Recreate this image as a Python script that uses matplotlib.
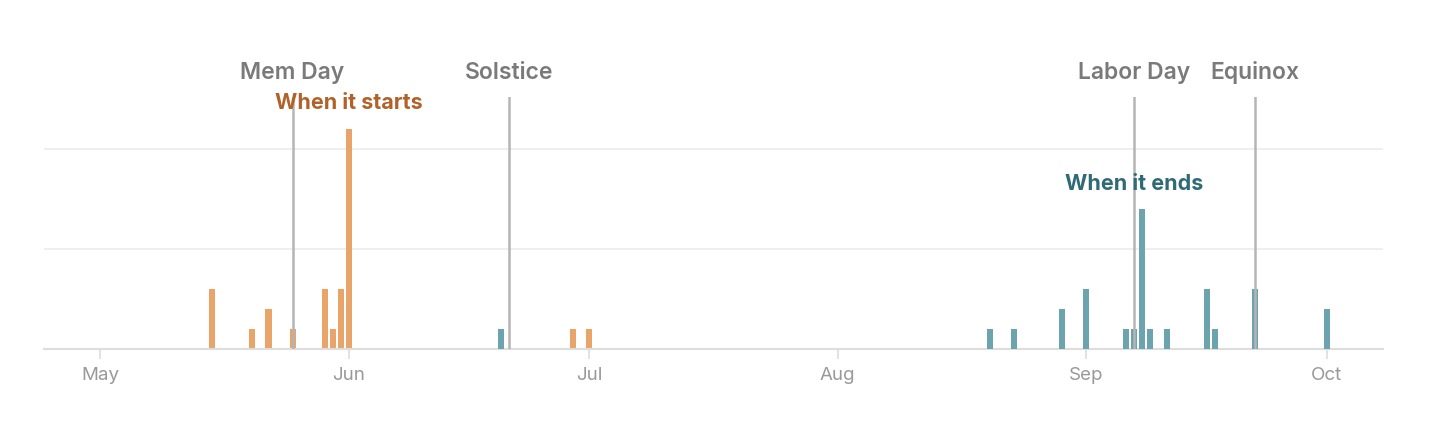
import matplotlib.pyplot as plt
import matplotlib.dates as mdates
import pandas as pd

# counts per day: when it starts (orange), when it ends (teal)
start_dates = ['2015-05-15', '2015-05-20', '2015-05-22', '2015-05-25', '2015-05-29',
               '2015-05-30', '2015-05-31', '2015-06-01', '2015-06-29', '2015-07-01',
               '2015-09-07']
start_counts = [3, 1, 2, 1, 3, 1, 3, 11, 1, 1, 1]

end_dates = ['2015-06-20', '2015-08-20', '2015-08-23', '2015-08-29', '2015-09-01',
             '2015-09-06', '2015-09-07', '2015-09-08', '2015-09-09', '2015-09-11',
             '2015-09-16', '2015-09-17', '2015-09-22', '2015-10-01']
end_counts = [1, 1, 1, 2, 3, 1, 1, 7, 1, 1, 3, 1, 3, 2]

event_names = ['Mem Day', 'Solstice', 'Labor Day', 'Equinox']
event_dates = ['2015-05-25', '2015-06-21', '2015-09-07', '2015-09-22']

start_dates = pd.to_datetime(start_dates)
end_dates = pd.to_datetime(end_dates)
event_dates = pd.to_datetime(event_dates)

plt.rcParams['font.family'] = ['Inter', 'DejaVu Sans']

fig = plt.figure(figsize=(14.3, 4.28), dpi=100)
ax = fig.add_axes([44/1430, 79/428, 1339/1430, 252/428])

ax.bar(start_dates, start_counts, width=0.75, color='#e9a46a', zorder=2)
ax.bar(end_dates, end_counts, width=0.75, color='#6ba3af', zorder=3)

for name, d in zip(event_names, event_dates):
    ax.axvline(d, color='#b5b5b5', lw=1.8, zorder=4)
    ax.text(d, 13.25, name, ha='center', va='bottom', fontsize=16.5,
            fontweight='semibold', color='#7a7a7a', clip_on=False)

ax.text(pd.Timestamp('2015-06-01'), 11.8, 'When it starts', ha='center', va='bottom',
        fontsize=15.5, fontweight='bold', color='#b0622a', zorder=5)
ax.text(pd.Timestamp('2015-09-07'), 7.75, 'When it ends', ha='center', va='bottom',
        fontsize=15.5, fontweight='bold', color='#2f6a75', zorder=5)

ax.set_xlim(pd.Timestamp('2015-04-24'), pd.Timestamp('2015-10-08'))
ax.set_ylim(0, 12.6)

ax.set_yticks([5, 10])
ax.yaxis.grid(True, color='#ececec', lw=1.2)
ax.tick_params(axis='y', length=0, labelleft=False)

ax.xaxis.set_major_locator(mdates.MonthLocator())
ax.xaxis.set_major_formatter(mdates.DateFormatter('%b'))
ax.tick_params(axis='x', length=7, width=1.2, color='#dddddd', labelcolor='#999999',
               labelsize=13.5, pad=6)

for s in ['top', 'right', 'left']:
    ax.spines[s].set_visible(False)
ax.spines['bottom'].set_color('#dddddd')
ax.spines['bottom'].set_linewidth(1.5)
ax.set_axisbelow(True)

plt.savefig('out.png', dpi=100)
